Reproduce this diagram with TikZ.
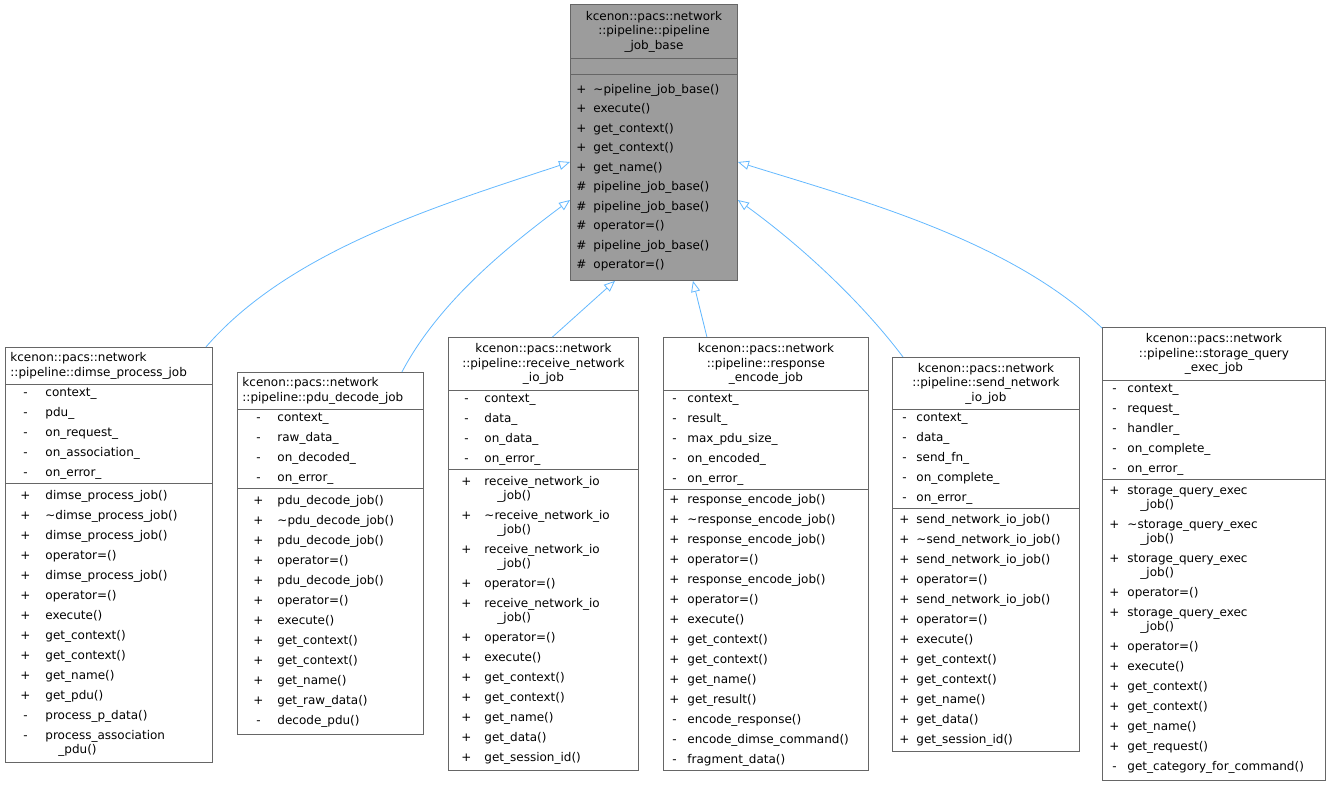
\documentclass[tikz,border=0pt]{standalone}
\usepackage{fontspec}
\setmainfont{DejaVu Sans}
\usetikzlibrary{arrows.meta,calc}
\newlength\visw
\newlength\visg
\newcommand\mb[2]{\makebox[\visw][c]{#1}\hspace{\visg}#2}
\newcommand\cont{\\\hspace{\dimexpr\visw+\visg+13pt\relax}}
\definecolor{edgeblue}{HTML}{63B8FF}
\definecolor{boxgray}{HTML}{666666}
\begin{document}
\begin{tikzpicture}[x=1pt,y=-1pt,
    comp/.style={draw=boxgray, line width=0.9pt, anchor=north west, inner xsep=5pt, inner ysep=0pt,
      font=\fontsize{12}{14.5}\selectfont},
    ttl/.style={comp, align=center},
    ttll/.style={comp, align=left},
    mem/.style={comp, align=left, font=\fontsize{12}{14}\selectfont},
    vis/.style 2 args={execute at begin node={\setlength\visw{#1}\setlength\visg{#2}}},
    inherit/.style={draw=edgeblue, line width=0.8pt, -{Triangle[open,length=11pt,width=9pt,fill=white]}}]
    \useasboundingbox (0,0) rectangle (1330,787);

    % Base class
    \node[ttl, fill=boxgray!65, text width=157pt, minimum height=54pt] (bt) at (570,4)
      {kcenon::pacs::network\\::pipeline::pipeline\\\_job\_base};
    \node[comp, fill=boxgray!65, text width=157pt, minimum height=16pt] (be) at (570,58) {};
    \node[mem, fill=boxgray!65, vis={12pt}{6pt}, text width=157pt, minimum height=206pt] (bm) at (570,74)
      {\mb{+}{\textasciitilde pipeline\_job\_base()}\\[5.5pt]\mb{+}{execute()}\\[5.5pt]
       \mb{+}{get\_context()}\\[5.5pt]\mb{+}{get\_context()}\\[5.5pt]\mb{+}{get\_name()}\\[5.5pt]
       \mb{\#}{pipeline\_job\_base()}\\[5.5pt]\mb{\#}{pipeline\_job\_base()}\\[5.5pt]
       \mb{\#}{operator=()}\\[5.5pt]\mb{\#}{pipeline\_job\_base()}\\[5.5pt]\mb{\#}{operator=()}};

    % dimse_process_job
    \node[ttll, text width=197pt, minimum height=37pt] (dt) at (5,347)
      {kcenon::pacs::network\\::pipeline::dimse\_process\_job};
    \node[mem, vis={30pt}{5pt}, text width=197pt, minimum height=99pt] (da) at (5,384)
      {\mb{-}{context\_}\\[6pt]\mb{-}{pdu\_}\\[6pt]\mb{-}{on\_request\_}\\[6pt]\mb{-}{on\_association\_}\\[6pt]\mb{-}{on\_error\_}};
    \node[mem, vis={30pt}{5pt}, text width=197pt, minimum height=279pt] (dm) at (5,483)
      {\mb{+}{dimse\_process\_job()}\\[6pt]\mb{+}{\textasciitilde dimse\_process\_job()}\\[6pt]
       \mb{+}{dimse\_process\_job()}\\[6pt]\mb{+}{operator=()}\\[6pt]\mb{+}{dimse\_process\_job()}\\[6pt]
       \mb{+}{operator=()}\\[6pt]\mb{+}{execute()}\\[6pt]\mb{+}{get\_context()}\\[6pt]\mb{+}{get\_context()}\\[6pt]
       \mb{+}{get\_name()}\\[6pt]\mb{+}{get\_pdu()}\\[6pt]\mb{-}{process\_p\_data()}\\[6pt]
       \mb{-}{process\_association}\cont\_pdu()};

    % pdu_decode_job
    \node[ttll, text width=176pt, minimum height=37pt] (pt) at (237,372)
      {kcenon::pacs::network\\::pipeline::pdu\_decode\_job};
    \node[mem, vis={32pt}{3pt}, text width=176pt, minimum height=79pt] (pa) at (237,409)
      {\mb{-}{context\_}\\[6pt]\mb{-}{raw\_data\_}\\[6pt]\mb{-}{on\_decoded\_}\\[6pt]\mb{-}{on\_error\_}};
    \node[mem, vis={32pt}{3pt}, text width=176pt, minimum height=246pt] (pm) at (237,488)
      {\mb{+}{pdu\_decode\_job()}\\[6pt]\mb{+}{\textasciitilde pdu\_decode\_job()}\\[6pt]
       \mb{+}{pdu\_decode\_job()}\\[6pt]\mb{+}{operator=()}\\[6pt]\mb{+}{pdu\_decode\_job()}\\[6pt]
       \mb{+}{operator=()}\\[6pt]\mb{+}{execute()}\\[6pt]\mb{+}{get\_context()}\\[6pt]\mb{+}{get\_context()}\\[6pt]
       \mb{+}{get\_name()}\\[6pt]\mb{+}{get\_raw\_data()}\\[6pt]\mb{-}{decode\_pdu()}};

    % receive_network_io_job
    \node[ttl, text width=180pt, minimum height=53pt] (rt) at (448,337)
      {kcenon::pacs::network\\::pipeline::receive\_network\\\_io\_job};
    \node[mem, vis={26pt}{5pt}, text width=180pt, minimum height=79pt] (ra) at (448,390)
      {\mb{-}{context\_}\\[6pt]\mb{-}{data\_}\\[6pt]\mb{-}{on\_data\_}\\[6pt]\mb{-}{on\_error\_}};
    \node[mem, vis={26pt}{5pt}, text width=180pt, minimum height=301pt] (rm) at (448,469)
      {\mb{+}{receive\_network\_io}\cont\_job()\\[6pt]\mb{+}{\textasciitilde receive\_network\_io}\cont\_job()\\[6pt]
       \mb{+}{receive\_network\_io}\cont\_job()\\[6pt]\mb{+}{operator=()}\\[6pt]
       \mb{+}{receive\_network\_io}\cont\_job()\\[6pt]\mb{+}{operator=()}\\[6pt]\mb{+}{execute()}\\[6pt]
       \mb{+}{get\_context()}\\[6pt]\mb{+}{get\_context()}\\[6pt]\mb{+}{get\_name()}\\[6pt]
       \mb{+}{get\_data()}\\[6pt]\mb{+}{get\_session\_id()}};

    % response_encode_job
    \node[ttl, text width=195pt, minimum height=53pt] (et) at (663,337)
      {kcenon::pacs::network\\::pipeline::response\\\_encode\_job};
    \node[mem, vis={12pt}{7pt}, text width=195pt, minimum height=99pt] (ea) at (663,390)
      {\mb{-}{context\_}\\[6pt]\mb{-}{result\_}\\[6pt]\mb{-}{max\_pdu\_size\_}\\[6pt]\mb{-}{on\_encoded\_}\\[6pt]\mb{-}{on\_error\_}};
    \node[mem, vis={12pt}{7pt}, text width=195pt, minimum height=281pt] (em) at (663,489)
      {\mb{+}{response\_encode\_job()}\\[6pt]\mb{+}{\textasciitilde response\_encode\_job()}\\[6pt]
       \mb{+}{response\_encode\_job()}\\[6pt]\mb{+}{operator=()}\\[6pt]\mb{+}{response\_encode\_job()}\\[6pt]
       \mb{+}{operator=()}\\[6pt]\mb{+}{execute()}\\[6pt]\mb{+}{get\_context()}\\[6pt]\mb{+}{get\_context()}\\[6pt]
       \mb{+}{get\_name()}\\[6pt]\mb{+}{get\_result()}\\[6pt]\mb{-}{encode\_response()}\\[6pt]
       \mb{-}{encode\_dimse\_command()}\\[6pt]\mb{-}{fragment\_data()}};

    % send_network_io_job
    \node[ttl, text width=177pt, minimum height=52pt] (st) at (892,357)
      {kcenon::pacs::network\\::pipeline::send\_network\\\_io\_job};
    \node[mem, vis={14pt}{5pt}, text width=177pt, minimum height=99pt] (sa) at (892,409)
      {\mb{-}{context\_}\\[6pt]\mb{-}{data\_}\\[6pt]\mb{-}{send\_fn\_}\\[6pt]\mb{-}{on\_complete\_}\\[6pt]\mb{-}{on\_error\_}};
    \node[mem, vis={14pt}{5pt}, text width=177pt, minimum height=243pt] (sm) at (892,508)
      {\mb{+}{send\_network\_io\_job()}\\[6pt]\mb{+}{\textasciitilde send\_network\_io\_job()}\\[6pt]
       \mb{+}{send\_network\_io\_job()}\\[6pt]\mb{+}{operator=()}\\[6pt]\mb{+}{send\_network\_io\_job()}\\[6pt]
       \mb{+}{operator=()}\\[6pt]\mb{+}{execute()}\\[6pt]\mb{+}{get\_context()}\\[6pt]\mb{+}{get\_context()}\\[6pt]
       \mb{+}{get\_name()}\\[6pt]\mb{+}{get\_data()}\\[6pt]\mb{+}{get\_session\_id()}};

    % storage_query_exec_job
    \node[ttl, text width=213pt, minimum height=53pt] (qt) at (1102,327)
      {kcenon::pacs::network\\::pipeline::storage\_query\\\_exec\_job};
    \node[mem, vis={14pt}{6pt}, text width=213pt, minimum height=99pt] (qa) at (1102,380)
      {\mb{-}{context\_}\\[6pt]\mb{-}{request\_}\\[6pt]\mb{-}{handler\_}\\[6pt]\mb{-}{on\_complete\_}\\[6pt]\mb{-}{on\_error\_}};
    \node[mem, vis={14pt}{6pt}, text width=213pt, minimum height=301pt] (qm) at (1102,479)
      {\mb{+}{storage\_query\_exec}\cont\_job()\\[6pt]\mb{+}{\textasciitilde storage\_query\_exec}\cont\_job()\\[6pt]
       \mb{+}{storage\_query\_exec}\cont\_job()\\[6pt]\mb{+}{operator=()}\\[6pt]
       \mb{+}{storage\_query\_exec}\cont\_job()\\[6pt]\mb{+}{operator=()}\\[6pt]\mb{+}{execute()}\\[6pt]
       \mb{+}{get\_context()}\\[6pt]\mb{+}{get\_context()}\\[6pt]\mb{+}{get\_name()}\\[6pt]
       \mb{+}{get\_request()}\\[6pt]\mb{-}{get\_category\_for\_command()}};

    % Inheritance
    \coordinate (dt-top) at ($(dt.north east)+(-7,0)$);
    \coordinate (pt-top) at ($(pt.north east)+(-22,0)$);
    \coordinate (rt-top) at ($(rt.north)+(9,0)$);
    \coordinate (et-top) at ($(et.north)+(-59,0)$);
    \coordinate (st-top) at ($(st.north west)+(11,0)$);
    \coordinate (qt-top) at ($(qt.north west)+(0,1)$);
    \coordinate (bm-l1) at ($(bm.north west)+(0,88)$);
    \coordinate (bm-l2) at ($(bm.north west)+(0,126)$);
    \coordinate (bm-b1) at ($(bm.south)+(-39,0)$);
    \coordinate (bm-b2) at ($(bm.south)+(39,0)$);
    \coordinate (bm-r1) at ($(bm.north east)+(0,126)$);
    \coordinate (bm-r2) at ($(bm.north east)+(0,88)$);
    \draw[inherit] (dt-top) .. controls (290,250) and (440,205) .. (bm-l1);
    \draw[inherit] (pt-top) .. controls (440,300) and (510,245) .. (bm-l2);
    \draw[inherit] (rt-top) -- (bm-b1);
    \draw[inherit] (et-top) -- (bm-b2);
    \draw[inherit] (st-top) .. controls (860,300) and (800,245) .. (bm-r1);
    \draw[inherit] (qt-top) .. controls (1010,240) and (860,200) .. (bm-r2);
\end{tikzpicture}
\end{document}
